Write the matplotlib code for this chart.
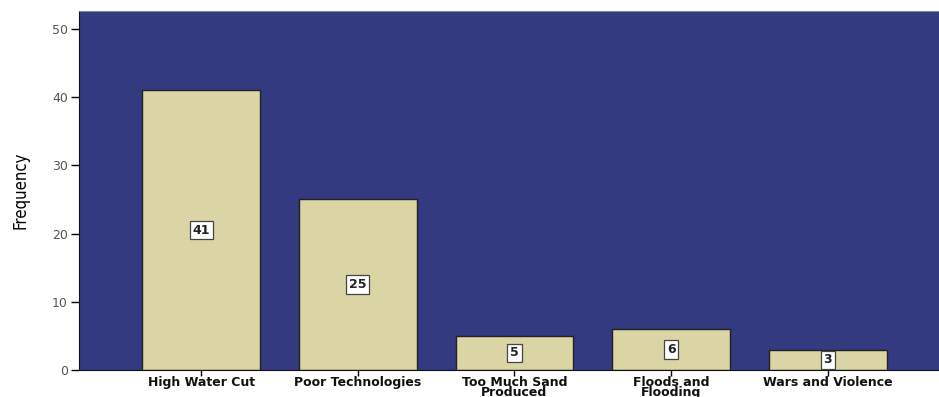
import matplotlib
matplotlib.use('Agg')
import matplotlib.pyplot as plt

categories = ['High Water Cut', 'Poor Technologies', 'Too Much Sand\nProduced',
              'Floods and\nFlooding', 'Wars and Violence']
freq = [41, 25, 5, 6, 3]
yticks = [0, 10, 20, 30, 40, 50]

fig = plt.figure(figsize=(9.39, 3.97), dpi=100)
ax = fig.add_axes([0.0841, 0.068, 0.9159, 0.904])
ax.set_facecolor('#333a7f')

x = range(len(categories))
ax.bar(x, freq, width=0.75, color='#dbd5a5', edgecolor='#222222', linewidth=1.0, zorder=2)

for xi, v in zip(x, freq):
    ax.text(xi, v / 2, str(v), ha='center', va='center', fontsize=9, fontweight='bold',
            color='#222222', zorder=3,
            bbox=dict(boxstyle='square,pad=0.22', facecolor='white', edgecolor='#444444', linewidth=0.9))

ax.set_xlim(-0.78, 4.71)
ax.set_ylim(0, 52.6)
ax.set_yticks(yticks)
ax.set_yticklabels([str(t) for t in yticks], fontsize=9, color='#555555')
ax.set_xticks(list(x))
ax.set_xticklabels(categories, fontsize=9, fontweight='bold', color='#111111', linespacing=0.7)
ax.tick_params(axis='y', length=6, width=1, direction='out', pad=2)
ax.tick_params(axis='x', length=4, width=1, direction='out', pad=0.5)

ax.set_ylabel('Frequency', fontsize=12, family=['DejaVu Sans'], fontstretch='condensed', labelpad=16)

ax.spines['left'].set_color('#111111')
ax.spines['bottom'].set_color('#111111')
ax.spines['top'].set_color('#888888')
ax.spines['right'].set_visible(False)

fig.savefig('out.png', dpi=100)
